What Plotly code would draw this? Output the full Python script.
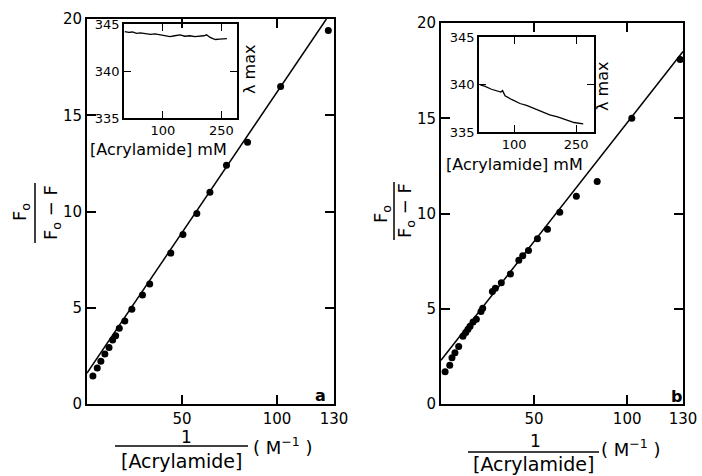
import plotly.graph_objects as go

W, H = 702, 476

# ---------------- data ----------------
# Panel a: F0/(F0-F) vs 1/[Acrylamide]
a_x = [3.1, 5.4, 7.3, 9.4, 11.6, 13.5, 15.1, 17.0, 19.9, 23.6, 29.2, 33.0,
       44.1, 50.5, 57.8, 64.7, 73.4, 84.5, 101.9, 127.0]
a_y = [1.45, 1.87, 2.22, 2.60, 2.93, 3.32, 3.55, 3.93, 4.31, 4.92, 5.66, 6.23,
       7.84, 8.80, 9.90, 11.0, 12.4, 13.6, 16.5, 19.4]
a_fit_x = [0, 126]
a_fit_y = [1.6, 20.0]

# Panel b
b_x = [2.2, 4.7, 5.9, 7.5, 9.5, 11.8, 13.3, 14.5, 15.6, 17.2, 19.0, 21.5, 22.4,
       27.6, 29.2, 32.4, 37.3, 41.8, 43.9, 47.0, 51.8, 57.2, 63.8, 72.7, 83.9,
       102.5, 128.5]
b_y = [1.69, 2.04, 2.43, 2.69, 3.02, 3.55, 3.75, 3.92, 4.08, 4.31, 4.45, 4.85,
       5.03, 5.91, 6.08, 6.37, 6.82, 7.55, 7.78, 8.06, 8.67, 9.17, 10.06, 10.9,
       11.68, 15.0, 18.08]
b_fit_x = [0, 130]
b_fit_y = [2.3, 18.5]

# Inset a: lambda max vs [Acrylamide] mM
ins_a_x = [2, 12, 22, 32, 42, 55, 68, 80, 95, 108, 118, 130, 144, 156, 169,
           182, 195, 205, 212, 220, 228, 235, 245, 255, 264]
ins_a_y = [344.2, 344.1, 344.15, 344.0, 344.05, 343.95, 343.9, 343.95, 343.8,
           343.75, 343.65, 343.75, 343.85, 343.7, 343.75, 343.65, 343.7,
           343.75, 343.85, 343.6, 343.45, 343.35, 343.4, 343.45, 343.45]

# Inset b
ins_b_x = [18, 30, 45, 60, 68, 72, 78, 95, 114, 130, 146, 165, 186, 205, 227,
           245, 267]
ins_b_y = [339.95, 339.8, 339.5, 339.25, 339.2, 339.35, 338.8, 338.4, 338.0,
           337.8, 337.5, 337.2, 336.8, 336.6, 336.25, 336.0, 335.85]

main_xticks = [50, 100, 130]
main_yticks = [0, 5, 10, 15, 20]
ins_xticks = [100, 250]
ins_yticks = [335, 340, 345]

FONT = "DejaVu Sans"


def px(x):
    return x / W


def py(y):
    return 1 - y / H


fig = go.Figure()

# main panels
fig.add_trace(go.Scatter(x=a_fit_x, y=a_fit_y, mode="lines",
                         line=dict(color="black", width=1.5),
                         xaxis="x", yaxis="y"))
fig.add_trace(go.Scatter(x=a_x, y=a_y, mode="markers",
                         marker=dict(color="black", size=7),
                         xaxis="x", yaxis="y"))
fig.add_trace(go.Scatter(x=b_fit_x, y=b_fit_y, mode="lines",
                         line=dict(color="black", width=1.5),
                         xaxis="x2", yaxis="y2"))
fig.add_trace(go.Scatter(x=b_x, y=b_y, mode="markers",
                         marker=dict(color="black", size=7),
                         xaxis="x2", yaxis="y2"))
# insets
fig.add_trace(go.Scatter(x=ins_a_x, y=ins_a_y, mode="lines",
                         line=dict(color="black", width=1.3),
                         xaxis="x3", yaxis="y3"))
fig.add_trace(go.Scatter(x=ins_b_x, y=ins_b_y, mode="lines",
                         line=dict(color="black", width=1.3),
                         xaxis="x4", yaxis="y4"))

main_ax = dict(showline=True, linewidth=2, linecolor="black", mirror="ticks",
               ticks="inside", ticklen=9, tickwidth=1.5, tickcolor="black",
               showgrid=False, zeroline=False, automargin=False,
               tickfont=dict(family=FONT, size=15, color="black"))
ins_ax = dict(showline=True, linewidth=1.5, linecolor="black", mirror="ticks",
              ticks="inside", ticklen=7, tickwidth=1.2, tickcolor="black",
              showgrid=False, zeroline=False, automargin=False,
              tickfont=dict(family=FONT, size=13, color="black"))

fig.update_layout(
    width=W, height=H,
    margin=dict(l=0, r=0, t=0, b=0, pad=0),
    paper_bgcolor="white", plot_bgcolor="rgba(0,0,0,0)",
    showlegend=False,
    font=dict(family=FONT, color="black"),
    xaxis=dict(main_ax, domain=[px(87), px(334)], range=[0, 130],
               tickvals=main_xticks, anchor="y"),
    yaxis=dict(main_ax, domain=[py(404), py(19)], range=[0, 20],
               tickvals=main_yticks, anchor="x"),
    xaxis2=dict(main_ax, domain=[px(441), px(683)], range=[0, 130],
                tickvals=main_xticks, anchor="y2"),
    yaxis2=dict(main_ax, domain=[py(404), py(23)], range=[0, 20],
                tickvals=main_yticks, anchor="x2"),
    xaxis3=dict(ins_ax, domain=[px(124), px(237)], range=[0, 290],
                tickvals=ins_xticks, anchor="y3"),
    yaxis3=dict(ins_ax, domain=[py(118), py(24)], range=[335, 345],
                tickvals=ins_yticks, anchor="x3"),
    xaxis4=dict(ins_ax, domain=[px(479), px(594)], range=[15, 293],
                tickvals=ins_xticks, anchor="y4"),
    yaxis4=dict(ins_ax, domain=[py(132), py(37)], range=[335, 345],
                tickvals=ins_yticks, anchor="x4"),
)

ann = []


def text(x, y, t, size=16, angle=0):
    ann.append(dict(x=px(x), y=py(y), xref="paper", yref="paper", text=t,
                    showarrow=False, textangle=angle,
                    font=dict(family=FONT, size=size, color="black"),
                    xanchor="center", yanchor="middle"))


shapes = []


def hline(x0, x1, y):
    shapes.append(dict(type="line", xref="paper", yref="paper",
                       x0=px(x0), x1=px(x1), y0=py(y), y1=py(y),
                       line=dict(color="black", width=1.5)))


def vline(x, y0, y1):
    shapes.append(dict(type="line", xref="paper", yref="paper",
                       x0=px(x), x1=px(x), y0=py(y0), y1=py(y1),
                       line=dict(color="black", width=1.5)))


# white backgrounds behind insets
for (x0, x1, y0, y1) in [(124, 237, 24, 118), (479, 594, 37, 132)]:
    shapes.append(dict(type="rect", xref="paper", yref="paper", layer="below",
                       x0=px(x0), x1=px(x1), y0=py(y1), y1=py(y0),
                       fillcolor="white", line=dict(width=0)))

# panel a titles
text(187, 437, "1", 17)
hline(115, 248, 446)
text(181, 461, "[Acrylamide]", 19)
text(283, 446, "( M<sup>−1</sup> )", 18)
text(21, 212, "F<sub>o</sub>", 18, -90)
vline(35, 183, 243)
text(52, 213, "F<sub>o</sub> − F", 18, -90)
text(158, 149, "[Acrylamide] mM", 16)
text(249, 70, "λ max", 16, -90)
text(320, 395, "<b>a</b>", 16)

# panel b titles
text(535, 441, "1", 17)
hline(468, 599, 452)
text(533, 464, "[Acrylamide]", 19)
text(631, 448, "( M<sup>−1</sup> )", 18)
text(382, 214, "F<sub>o</sub>", 18, -90)
vline(394, 182, 240)
text(406, 211, "F<sub>o</sub> − F", 18, -90)
text(514, 164, "[Acrylamide] mM", 16)
text(602, 87, "λ max", 16, -90)
text(676, 396, "<b>b</b>", 16)

fig.update_layout(annotations=ann, shapes=shapes)

fig.write_html(
    "out.html",
    config={"displayModeBar": False},
    post_script="document.body.style.margin='0';"
                "document.body.style.padding='0';"
                "document.body.style.overflow='hidden';",
)
